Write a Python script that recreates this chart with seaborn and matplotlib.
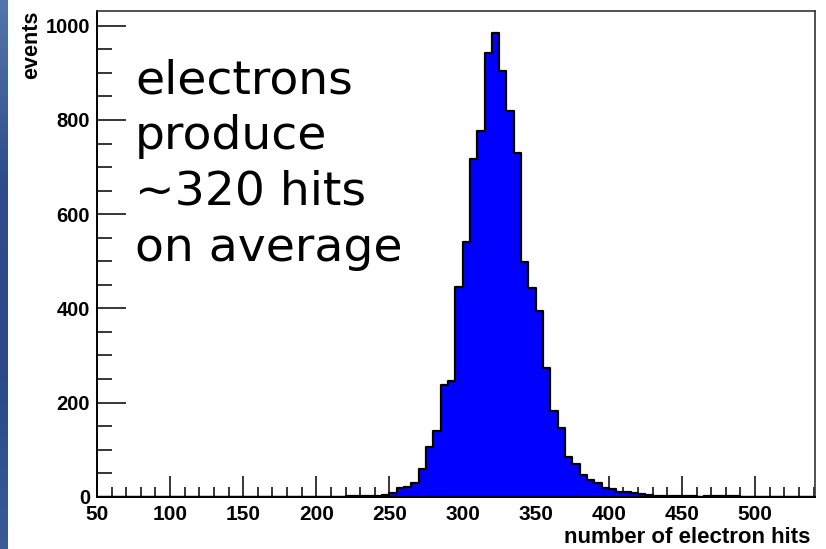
import numpy as np
import pandas as pd
import matplotlib
matplotlib.use("Agg")
import matplotlib.pyplot as plt
from matplotlib.ticker import MultipleLocator
from matplotlib.colors import LinearSegmentedColormap
import seaborn as sns

# ---- data (bin width 5 hits) ----
bin_start = [215, 220, 225, 230, 235, 240, 245, 250, 255, 260, 265, 270, 275,
             280, 285, 290, 295, 300, 305, 310, 315, 320, 325, 330, 335, 340,
             345, 350, 355, 360, 365, 370, 375, 380, 385, 390, 395, 400, 405,
             410, 415, 420, 425, 430, 435, 440, 445, 450, 455, 460, 465, 470,
             475, 480, 485]
events = [0, 1, 1, 1, 1, 2, 4, 7, 18, 21, 30, 58, 105,
          140, 237, 246, 445, 540, 717, 777, 942, 984, 903, 818, 729, 499,
          443, 394, 273, 181, 145, 84, 70, 46, 35, 30, 18, 16, 11,
          9, 7, 6, 4, 2, 2, 1, 1, 1, 1, 0, 1, 1,
          1, 1, 1]
bin_width = 5
hist_range = (50, 545)
x_range = (50, 541)
y_range = (0, 1032)
x_major = [50, 100, 150, 200, 250, 300, 350, 400, 450, 500]
y_major = [0, 200, 400, 600, 800, 1000]
annotation = "electrons\nproduce\n~320 hits\non average"
xlabel = "number of electron hits"
ylabel = "events"

df = pd.DataFrame({"hits": np.array(bin_start, dtype=float) + bin_width / 2,
                   "events": np.array(events, dtype=float)})

sns.set_style("ticks")
plt.rcParams["font.family"] = ["Liberation Sans", "DejaVu Sans"]
plt.rcParams["text.color"] = "black"
plt.rcParams["axes.labelcolor"] = "black"
plt.rcParams["xtick.color"] = "black"
plt.rcParams["ytick.color"] = "black"

W, H = 826, 549
fig = plt.figure(figsize=(W / 100, H / 100), dpi=100)
fig.patch.set_facecolor("white")

# slide background strip on the left edge
strip = fig.add_axes([0, 0, 8 / W, 1])
cmap = LinearSegmentedColormap.from_list("bg", ["#5676a9", "#2f4b8b", "#2c4887", "#3b5a96"])
strip.imshow(np.linspace(0, 1, 256).reshape(-1, 1), aspect="auto", cmap=cmap,
             extent=[0, 1, 0, 1])
strip.set_axis_off()

left, right = 97 / W, 815 / W
bottom, top = 1 - 496.7 / H, 1 - 10.7 / H
ax = fig.add_axes([left, bottom, right - left, top - bottom])

sns.histplot(data=df, x="hits", weights="events", binwidth=bin_width,
             binrange=hist_range, element="step",
             fill=True, color="#0000ff", alpha=1.0, edgecolor="black",
             linewidth=1.6, ax=ax)

ax.set_xlim(*x_range)
ax.set_ylim(*y_range)
ax.set_xticks(x_major)
ax.set_yticks(y_major)
ax.xaxis.set_minor_locator(MultipleLocator(10))
ax.yaxis.set_minor_locator(MultipleLocator(50))

ax.tick_params(axis="x", which="major", direction="in", length=15, width=1.1,
               pad=6, labelsize=15, color="black", labelcolor="black")
ax.tick_params(axis="x", which="minor", direction="in", length=7.5, width=1.1,
               color="black")
ax.tick_params(axis="y", which="major", direction="in", length=21, width=1.1,
               pad=5, labelsize=14.5, color="black", labelcolor="black")
ax.tick_params(axis="y", which="minor", direction="in", length=11, width=1.1,
               color="black")
for lab in ax.get_xticklabels() + ax.get_yticklabels():
    lab.set_fontweight("bold")

for s in ["left", "bottom"]:
    ax.spines[s].set_color("black")
    ax.spines[s].set_linewidth(1.4)
for s in ["top", "right"]:
    ax.spines[s].set_color("#333333")
    ax.spines[s].set_linewidth(1.2)

ax.set_xlabel(xlabel, loc="right", fontsize=16, fontweight="bold", color="black")
ax.xaxis.set_label_coords((810.7 - 97) / 718, (496.7 - 527) / 486)
ax.set_ylabel(ylabel, loc="top", fontsize=15.5, fontweight="bold", color="black",
              labelpad=2.5)

ax.text(135 / W, 1 - 58 / H, annotation, transform=fig.transFigure,
        fontsize=34, family="DejaVu Sans", va="top", ha="left",
        linespacing=1.31, color="black")

fig.savefig("out.png", dpi=100)
